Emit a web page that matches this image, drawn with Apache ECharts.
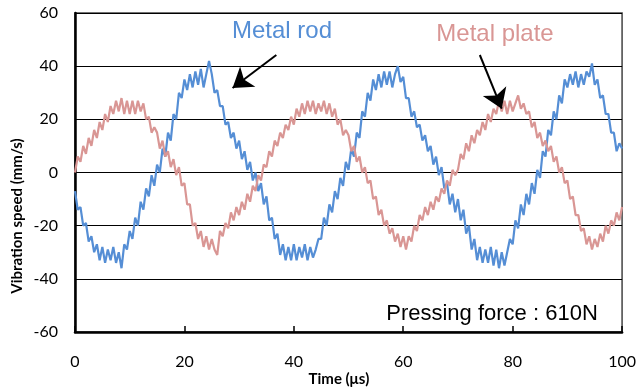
<!DOCTYPE html>
<html>
<head>
<meta charset="utf-8">
<script src="https://cdn.jsdelivr.net/npm/echarts@6/dist/echarts.min.js"></script>
<style>
  html, body { margin: 0; padding: 0; background: #fff; }
  #main { width: 639px; height: 387px; }
</style>
</head>
<body>
<div id="main"></div>
<script>
// sampled every 0.5 us from 0 to 100 us
const timeStep = 0.5;

const xTicks = [0, 20, 40, 60, 80, 100];
const yTicks = [-60, -40, -20, 0, 20, 40, 60];

// Metal rod (mm/s)
const rodSpeed = [
  -7, -14, -13, -20, -19, -26, -24, -30, -27, -33,
  -28, -34, -29, -33, -28, -34, -30, -36, -27, -29,
  -22, -25, -17, -20, -11, -14, -6, -9, -1, -5,
  3, 0, 9, 6, 15, 12, 22, 20, 30, 28,
  35, 31, 37, 32, 38, 33, 39, 32, 37, 42,
  37, 30, 31, 25, 25, 18, 19, 13, 15, 9,
  12, 5, 8, 1, 4, -3, 0, -7, -4, -12,
  -9, -18, -17, -25, -23, -31, -27, -33, -28, -33,
  -27, -33, -28, -32, -27, -33, -28, -32, -29, -25,
  -25, -17, -20, -12, -15, -7, -10, -2, -5, 4,
  1, 9, 6, 15, 13, 23, 21, 30, 27, 35,
  31, 37, 32, 38, 33, 38, 32, 37, 40, 34,
  36, 28, 28, 21, 23, 17, 18, 12, 14, 8,
  10, 3, 6, -1, 2, -6, -4, -12, -8, -15,
  -10, -18, -14, -23, -20, -29, -25, -33, -28, -34,
  -29, -34, -28, -35, -29, -36, -30, -35, -30, -25,
  -27, -18, -21, -12, -16, -8, -12, -4, -8, 1,
  -2, 8, 6, 16, 14, 23, 20, 29, 26, 35,
  32, 37, 33, 38, 32, 37, 33, 38, 36, 41,
  33, 35, 28, 29, 22, 22, 15, 15, 8, 11,
  9
];

// Metal plate (mm/s)
const plateSpeed = [
  0, 6, 4, 10, 7, 13, 10, 16, 13, 19,
  16, 22, 19, 25, 22, 27, 23, 28, 22, 27,
  22, 27, 22, 27, 23, 26, 20, 21, 15, 17,
  15, 9, 12, 6, 8, 2, 5, -1, 2, -5,
  -4, -12, -12, -20, -19, -25, -22, -28, -24, -29,
  -25, -29, -31, -22, -24, -19, -21, -15, -18, -13,
  -16, -11, -14, -8, -11, -5, -7, -1, -3, 3,
  2, 8, 6, 12, 10, 15, 13, 18, 16, 21,
  18, 24, 21, 26, 22, 27, 23, 27, 22, 26,
  23, 27, 22, 26, 21, 24, 18, 20, 14, 16,
  14, 8, 10, 4, 6, 0, 2, -4, -3, -10,
  -9, -16, -14, -20, -18, -23, -21, -26, -23, -28,
  -24, -29, -24, -26, -20, -22, -16, -18, -13, -16,
  -11, -14, -9, -11, -6, -8, -3, -5, 1, -1,
  1, 7, 5, 11, 8, 14, 11, 16, 14, 19,
  16, 22, 19, 24, 22, 27, 23, 27, 22, 27,
  23, 26, 29, 24, 26, 22, 23, 17, 19, 13,
  15, 10, 12, 8, 10, 4, 6, 0, 2, -4,
  -3, -10, -9, -16, -16, -22, -21, -27, -24, -29,
  -25, -28, -23, -26, -20, -23, -18, -20, -15, -18,
  -13
];

const rodColor = '#558ED5';
const plateColor = '#D99694';

const toPairs = arr => arr.map((v, i) => [i * timeStep, v]);

const chart = echarts.init(document.getElementById('main'));

const arrowLine = (from, to) => ({
  silent: true,
  symbol: ['none', 'arrow'],
  symbolSize: 19,
  label: { show: false },
  emphasis: { disabled: true },
  lineStyle: { color: '#000', width: 2, type: 'solid' },
  data: [[{ coord: from }, { coord: to }]]
});

chart.setOption({
  animation: false,
  grid: {
    left: 75, right: 13, top: 13, bottom: 55,
    show: true, borderColor: '#444', borderWidth: 1.5
  },
  xAxis: {
    type: 'value',
    min: xTicks[0], max: xTicks[xTicks.length - 1], interval: 20,
    axisLine: { onZero: false, lineStyle: { color: '#000', width: 2.5 } },
    axisTick: { inside: true, length: 6, lineStyle: { color: '#000', width: 1.5 } },
    axisLabel: { color: '#000', fontFamily: 'Lato', fontSize: 16, margin: 22 },
    splitLine: { show: false }
  },
  yAxis: {
    type: 'value',
    min: yTicks[0], max: yTicks[yTicks.length - 1], interval: 20,
    axisLine: { show: true, lineStyle: { color: '#000', width: 2.5 } },
    axisTick: { show: false },
    axisLabel: { color: '#000', fontFamily: 'Lato', fontSize: 16, margin: 17 },
    splitLine: { lineStyle: { color: '#000', width: 1.2 } }
  },
  series: [
    {
      name: 'Metal rod',
      type: 'line',
      data: toPairs(rodSpeed),
      showSymbol: false,
      lineStyle: { color: rodColor, width: 2.2 },
      markLine: arrowLine([36.8, 44.2], [28.8, 31.8])
    },
    {
      name: 'Metal plate',
      type: 'line',
      data: toPairs(plateSpeed),
      showSymbol: false,
      lineStyle: { color: plateColor, width: 2.2 },
      markLine: arrowLine([74.0, 44.2], [78.0, 24.0])
    }
  ],
  graphic: [
    {
      type: 'text', x: 282, y: 31,
      style: { text: 'Metal rod', fill: rodColor, font: '24px "Liberation Sans"', align: 'center', verticalAlign: 'middle' }
    },
    {
      type: 'text', x: 495, y: 34,
      style: { text: 'Metal plate', fill: plateColor, font: '24px "Liberation Sans"', align: 'center', verticalAlign: 'middle' }
    },
    {
      type: 'text', x: 492, y: 314,
      style: { text: 'Pressing force : 610N', fill: '#000', font: '22px "Liberation Sans"', align: 'center', verticalAlign: 'middle' }
    },
    {
      type: 'text', x: 339, y: 379,
      style: { text: 'Time (μs)', fill: '#000', font: 'bold 15px Lato', align: 'center', verticalAlign: 'middle' }
    },
    {
      type: 'text', x: 17, y: 216, rotation: Math.PI / 2,
      style: { text: 'Vibration speed (mm/s)', fill: '#000', font: 'bold 15px Lato', align: 'center', verticalAlign: 'middle' }
    }
  ]
});
</script>
</body>
</html>
